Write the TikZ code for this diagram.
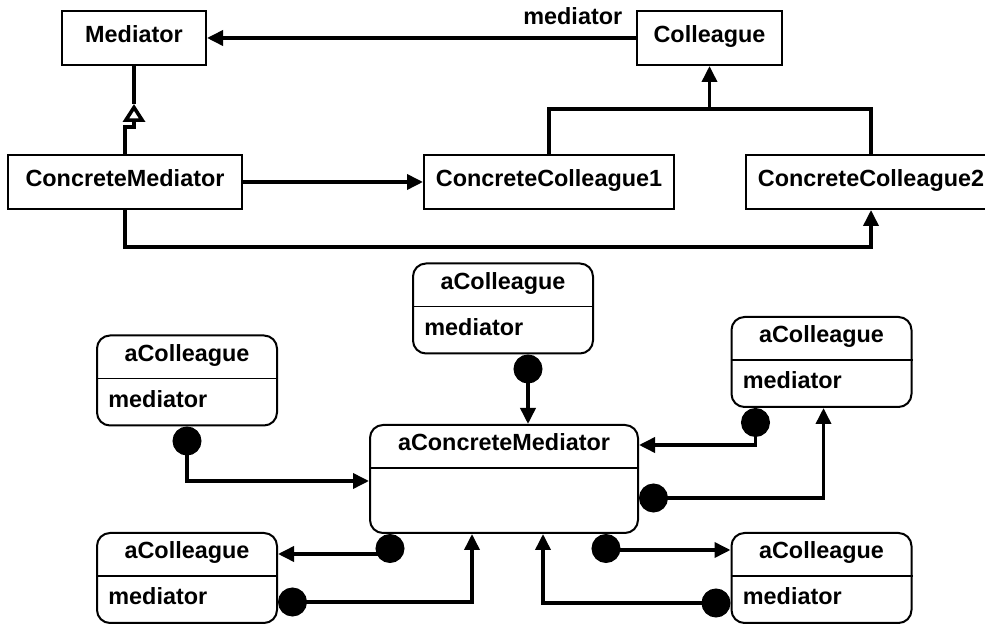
\documentclass[tikz,border=0pt]{standalone}
\usepackage{fontspec}
\setmainfont{Liberation Sans}
\usetikzlibrary{arrows.meta}

\tikzset{
  cls/.style={draw, line width=1pt, minimum height=27pt, inner sep=0pt, text height=9pt, text depth=4pt},
  obj/.style={draw, line width=1pt, rounded corners=6.5pt, minimum width=90pt, minimum height=45pt},
  sep/.style={line width=0.7pt},
  wire/.style={line width=1.8pt},
  link/.style={wire, -{Triangle[length=8pt,width=7.5pt]}},
  ref/.style={wire, {Circle[length=14.5pt,width=14.5pt]}-{Triangle[length=8pt,width=7.5pt]}},
  gen/.style={wire, -{Triangle[open,length=9pt,width=11pt]}},
}

\begin{document}
\begin{tikzpicture}[x=0.5pt, y=0.5pt, font=\bfseries\fontsize{11.7}{14}\selectfont]
  \useasboundingbox (0,0) rectangle (985,626);
  % class structure
  \node[cls, minimum width=72pt] (med) at (134,588) {Mediator};
  \node[cls, minimum width=72.5pt] (col) at (709.5,588) {Colleague};
  \node[cls, minimum width=117pt] (cmed) at (125,444) {ConcreteMediator};
  \node[cls, minimum width=125pt] (cc1) at (549,444) {ConcreteColleague1};
  \node[cls, minimum width=125pt] (cc2) at (871,444) {ConcreteColleague2};

  \draw[link] (col.west) -- (med.east)
    node[pos=0, anchor=base east, inner sep=0pt, xshift=-6pt, yshift=6.5pt] {mediator};
  \coordinate (tip) at ([yshift=-19pt]med.south);
  \draw[gen] (cmed.north) -- ++(0,27) -| (tip);
  \draw[wire] (tip) -- (med.south);
  \draw[link] (cmed.east) -- (cc1.west);
  \draw[link] (cmed.south) -- ++(0,-37) -| (cc2.south);
  \coordinate (join) at (709.5,517);
  \draw[wire] (cc1.north) |- (join) -| (cc2.north);
  \draw[link] (join) -- (col.south);

  % object structure
  \node[obj, minimum width=134pt, minimum height=54pt] (acm) at (504,147) {};
  \node[anchor=base] at ([yshift=-13.5pt]acm.north) {aConcreteMediator};
  \draw[sep] ([yshift=-22pt]acm.north west) -- ([yshift=-22pt]acm.north east);
  \foreach \n/\x/\y in {ctop/503/317.5, cleft/187/245.5, cright/821.5/264, clowl/187/48, clowr/821.5/48} {
    \node[obj] (\n) at (\x,\y) {};
    \node[anchor=base] at ([yshift=-13.5pt]\n.north) {aColleague};
    \draw[sep] ([yshift=-22pt]\n.north west) -- ([yshift=-22pt]\n.north east);
    \node[anchor=base west, inner sep=0pt] at ([xshift=6pt,yshift=9.5pt]\n.south west) {mediator};
  }

  \draw[ref] ([xshift=12pt]acm.north |- ctop.south) -- ([xshift=12pt]acm.north);
  \draw[ref] (cleft.south) |- ([yshift=-1pt]acm.west);
  \draw[ref] ([xshift=-33pt]cright.south) |- ([yshift=-10.5pt]acm.north east);
  \draw[ref] ([yshift=-9.5pt]acm.east) -| ([xshift=1pt]cright.south);
  \draw[ref] ([xshift=10.5pt]acm.south west) |- ([yshift=-11pt]clowl.north east);
  \draw[ref] ([yshift=-12pt]clowl.east) -| ([xshift=-16pt]acm.south);
  \draw[ref] ([xshift=-16.5pt]acm.south east) |- ([yshift=-9pt]clowr.north west);
  \draw[ref] ([yshift=-12.5pt]clowr.west) -| ([xshift=19.5pt]acm.south);
\end{tikzpicture}
\end{document}
